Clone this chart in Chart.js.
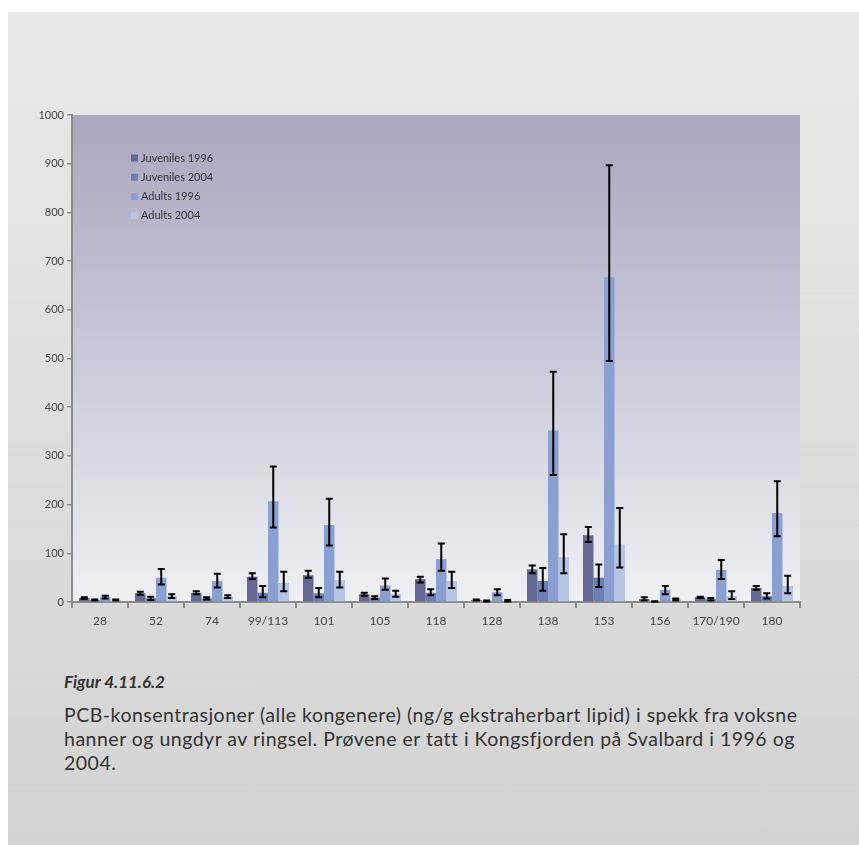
<!DOCTYPE html>
<html>
<head>
<meta charset="utf-8">
<script src="https://cdn.jsdelivr.net/npm/chart.js@4/dist/chart.umd.min.js"></script>
<style>
  body { margin: 0; background: #fff; width: 859px; height: 845px; overflow: hidden; position: relative; font-family: Lato, "DejaVu Sans", sans-serif; }
  #panel { position: absolute; left: 8px; top: 12px; width: 851px; height: 833px; background: linear-gradient(#e9e9e7, #d3d3d3); }
  #wrap { position: absolute; left: 0; top: 0; width: 859px; height: 645px; }
  #caption { position: absolute; left: 64px; top: 670px; width: 790px; color: #333; font-size: 19.5px; line-height: 24px; letter-spacing: 0.5px; white-space: nowrap; }
  #caption b { font-style: italic; font-size: 17px; letter-spacing: 0; display: block; margin-bottom: 9px; }
</style>
</head>
<body>
<div id="panel"></div>
<div id="wrap"><canvas id="pcbChart" width="859" height="645"></canvas></div>
<div id="caption">
  <b>Figur 4.11.6.2</b>
  PCB-konsentrasjoner (alle kongenere) (ng/g ekstraherbart lipid) i spekk fra voksne<br>
  hanner og ungdyr av ringsel. Prøvene er tatt i Kongsfjorden på Svalbard i 1996 og<br>
  2004.
</div>
<script>
let categories = ['28', '52', '74', '99/113', '101', '105', '118', '128', '138', '153', '156', '170/190', '180'];
let yTicks = [0, 100, 200, 300, 400, 500, 600, 700, 800, 900, 1000];

let juv1996 = [8, 18, 19, 52, 55, 16, 47, 4, 67, 137, 6, 10, 29];
let juv1996Lo = [6, 15, 16, 47, 50, 13, 40, 3, 59, 123, 3, 8, 25];
let juv1996Hi = [10, 21, 22, 59, 64, 19, 52, 5, 75, 154, 10, 11, 33];

let juv2004 = [4, 8, 7, 19, 18, 9, 19, 2, 43, 50, 1, 6, 12];
let juv2004Lo = [3, 4, 5, 10, 10, 6, 14, 1, 23, 31, 0.5, 3, 7];
let juv2004Hi = [5, 11, 10, 33, 29, 12, 26, 3, 70, 77, 1.5, 8, 18];

let ad1996 = [10, 50, 43, 207, 158, 34, 88, 20, 352, 667, 25, 66, 183];
let ad1996Lo = [7, 36, 30, 153, 116, 25, 64, 14, 261, 495, 16, 47, 135];
let ad1996Hi = [13, 68, 58, 278, 212, 48, 120, 26, 473, 897, 33, 86, 248];

let ad2004 = [4, 12, 11, 39, 45, 16, 43, 2, 92, 118, 5, 12, 33];
let ad2004Lo = [3, 8, 8, 22, 30, 11, 29, 1, 59, 71, 3, 6, 18];
let ad2004Hi = [5, 16, 14, 62, 62, 23, 62, 4, 139, 193, 7, 22, 54];

let seriesNames = ['Juveniles 1996', 'Juveniles 2004', 'Adults 1996', 'Adults 2004'];
let seriesColors = ['#646892', '#6c7eb6', '#8aa0d2', '#b6c4e4'];

// plot background gradient
let plotBackground = {
  id: 'plotBackground',
  beforeDraw(chart) {
    let a = chart.chartArea, c = chart.ctx;
    let g = c.createLinearGradient(0, a.top, 0, a.bottom);
    g.addColorStop(0, '#aaa6bf');
    g.addColorStop(0.5, '#cac9d9');
    g.addColorStop(1, '#eff0f3');
    c.save();
    c.fillStyle = g;
    c.fillRect(a.left, a.top, a.right - a.left, a.bottom - a.top);
    c.restore();
  }
};

// error bars from lo/hi arrays
let errorBars = {
  id: 'errorBars',
  afterDatasetsDraw(chart) {
    let c = chart.ctx, y = chart.scales.y;
    c.save();
    c.strokeStyle = '#000';
    c.lineWidth = 2;
    chart.data.datasets.forEach((ds, i) => {
      let meta = chart.getDatasetMeta(i);
      meta.data.forEach((bar, j) => {
        let top = y.getPixelForValue(ds.errHi[j]);
        let bot = y.getPixelForValue(ds.errLo[j]);
        c.beginPath();
        c.moveTo(bar.x, top); c.lineTo(bar.x, bot);
        c.moveTo(bar.x - 3.5, top); c.lineTo(bar.x + 3.5, top);
        c.moveTo(bar.x - 3.5, bot); c.lineTo(bar.x + 3.5, bot);
        c.stroke();
      });
    });
    c.restore();
  }
};

// legend drawn inside the plot
let innerLegend = {
  id: 'innerLegend',
  afterDraw(chart) {
    let c = chart.ctx, a = chart.chartArea;
    c.save();
    c.font = '11px Lato, sans-serif';
    c.textBaseline = 'middle';
    chart.data.datasets.forEach((ds, i) => {
      let x = a.left + 59, yy = a.top + 43 + i * 19.3;
      c.fillStyle = ds.backgroundColor;
      c.fillRect(x, yy - 3.5, 7, 7);
      c.fillStyle = '#333';
      c.fillText(ds.label, x + 10, yy);
    });
    c.restore();
  }
};

let datasets = [
  { label: seriesNames[0], data: juv1996, errLo: juv1996Lo, errHi: juv1996Hi, backgroundColor: seriesColors[0] },
  { label: seriesNames[1], data: juv2004, errLo: juv2004Lo, errHi: juv2004Hi, backgroundColor: seriesColors[1] },
  { label: seriesNames[2], data: ad1996, errLo: ad1996Lo, errHi: ad1996Hi, backgroundColor: seriesColors[2] },
  { label: seriesNames[3], data: ad2004, errLo: ad2004Lo, errHi: ad2004Hi, backgroundColor: seriesColors[3] }
];

let pcbChart = new Chart(document.getElementById('pcbChart'), {
  type: 'bar',
  data: { labels: categories, datasets: datasets },
  plugins: [plotBackground, errorBars, innerLegend],
  options: {
    responsive: false,
    animation: false,
    layout: { padding: { left: 0, right: 59, top: 115, bottom: 0 } },
    datasets: { bar: { barPercentage: 1, categoryPercentage: 0.75, borderWidth: 0 } },
    plugins: { legend: { display: false }, tooltip: { enabled: false } },
    scales: {
      x: {
        grid: { drawOnChartArea: false, tickLength: 6, color: '#8c8c8c', lineWidth: 2, offset: true },
        border: { color: '#8c8c8c', width: 2 },
        ticks: { color: '#444', font: { family: 'Lato', size: 12 }, padding: 6 },
        afterFit(scale) { scale.height = 43; }
      },
      y: {
        min: 0, max: 1000,
        afterBuildTicks(scale) { scale.ticks = yTicks.map(v => ({ value: v })); },
        grid: { drawOnChartArea: false, tickLength: 5, color: '#8c8c8c', lineWidth: 1.5 },
        border: { color: '#8c8c8c', width: 2 },
        ticks: { color: '#444', font: { family: 'Lato', size: 11 }, padding: 3, callback: v => String(v) },
        afterFit(scale) { scale.width = 72; }
      }
    }
  }
});
</script>
</body>
</html>
